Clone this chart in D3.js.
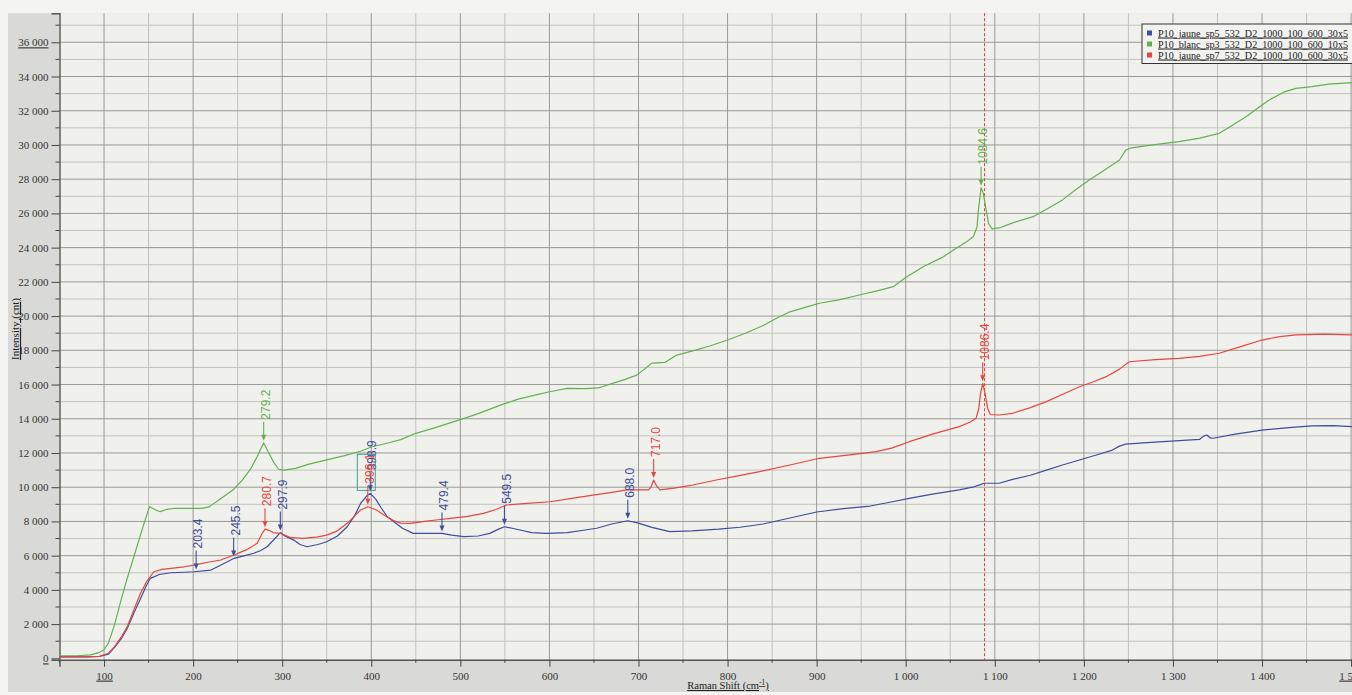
<!DOCTYPE html>
<html><head><meta charset="utf-8">
<script src="https://cdn.jsdelivr.net/npm/d3@7"></script>
<style>
body{margin:0;background:#f4f4f2;}
svg{display:block}
</style>
</head><body>
<svg id="chart" width="1352" height="695"></svg>
<script>
// ---------------- data ----------------
const seriesNames = [
  "P10_jaune_sp5_532_D2_1000_100_600_30x5",
  "P10_blanc_sp3_532_D2_1000_100_600_10x5",
  "P10_jaune_sp7_532_D2_1000_100_600_30x5"
];
const seriesColors = ["#3f4d9c", "#62b24f", "#e5473d"];

// [Raman shift, intensity]
const jauneSp5 = [[50,80],[80,80],[95,110],[105,250],[112,650],[120,1200],[126,1750],[134,2700],[141,3500],[147,4200],[152,4675],[162,4900],[175,5000],[190,5030],[201,5060],[220,5160],[233,5500],[246,5845],[258,6000],[268,6140],[276,6300],[283,6520],[290,6900],[297.9,7350],[303,7150],[313,6910],[320,6650],[328,6520],[340,6650],[350,6815],[362,7150],[373,7690],[382,8400],[388,9050],[395,9500],[398.9,9640],[405,9300],[411,8800],[418,8275],[425,8000],[435,7600],[447,7300],[465,7300],[479.4,7300],[490,7200],[504,7110],[520,7150],[533,7300],[543,7550],[549.5,7690],[558,7600],[567,7500],[580,7350],[597,7300],[620,7350],[640,7500],[653,7600],[670,7850],[688,8040],[700,7900],[715,7650],[735,7400],[760,7450],[790,7550],[814,7660],[840,7850],[870,8200],[900,8550],[930,8750],[960,8900],[985,9150],[1004,9350],[1030,9600],[1060,9840],[1075,10000],[1084,10150],[1088,10230],[1105,10230],[1120,10460],[1140,10700],[1158,11000],[1176,11300],[1195,11590],[1214,11880],[1232,12170],[1240,12400],[1247,12520],[1275,12620],[1307,12720],[1330,12800],[1335,13000],[1338,13050],[1342,12880],[1345,12860],[1370,13100],[1400,13340],[1430,13480],[1456,13580],[1480,13600],[1501,13540]];

const blancSp3 = [[50,150],[70,150],[85,200],[95,350],[100,500],[105,900],[112,2000],[118,3200],[125,4500],[135,6200],[145,7900],[151,8860],[157,8700],[163,8570],[170,8700],[180,8770],[195,8760],[210,8760],[218,8850],[230,9300],[245,9850],[255,10400],[265,11100],[272,11800],[279.2,12600],[284,12100],[290,11500],[296,11050],[302,11000],[315,11100],[330,11350],[350,11600],[370,11850],[388,12100],[400,12350],[420,12600],[433,12780],[450,13150],[470,13450],[485,13700],[500,13950],[520,14300],[545,14800],[565,15150],[585,15400],[600,15580],[620,15780],[640,15760],[655,15800],[670,16050],[685,16300],[698,16550],[708,16950],[715,17250],[730,17300],[742,17700],[760,17950],[780,18250],[800,18600],[820,19000],[840,19450],[855,19870],[870,20250],[890,20550],[903,20750],[925,20950],[948,21230],[970,21500],[986,21720],[1000,22250],[1020,22900],[1040,23400],[1055,23900],[1070,24400],[1076,24650],[1080,25200],[1082,26400],[1084.6,27500],[1087,27200],[1090,26300],[1093,25400],[1097,25100],[1105,25150],[1120,25450],[1143,25810],[1160,26300],[1176,26790],[1190,27350],[1206,27950],[1222,28500],[1240,29120],[1247,29700],[1252,29810],[1277,30000],[1307,30190],[1330,30400],[1352,30680],[1365,31100],[1382,31650],[1395,32150],[1408,32630],[1425,33100],[1438,33310],[1456,33410],[1475,33550],[1501,33640]];

const jauneSp7 = [[50,80],[80,80],[95,120],[105,300],[112,700],[120,1300],[126,1850],[134,2900],[141,3800],[148,4500],[156,5060],[165,5200],[175,5260],[190,5350],[201,5450],[215,5600],[231,5745],[246,6040],[260,6350],[272,6720],[277,7250],[280.7,7550],[285,7480],[290,7350],[298,7300],[310,7050],[324,7010],[340,7100],[350,7200],[362,7450],[373,7890],[382,8350],[388,8670],[396.1,8860],[406,8670],[415,8350],[425,8050],[433,7900],[444,7890],[460,8000],[475,8100],[489,8180],[508,8300],[526,8470],[540,8700],[552,8960],[575,9050],[601,9150],[625,9350],[649,9540],[670,9700],[687,9840],[711,9840],[714,10000],[717,10420],[720,10100],[724,9840],[740,9950],[761,10130],[790,10450],[810,10650],[836,10910],[870,11300],[903,11690],[935,11880],[967,12075],[985,12300],[1004,12660],[1030,13100],[1060,13540],[1072,13800],[1079,14030],[1082,14600],[1084,15500],[1086.4,16070],[1089,15500],[1092,14600],[1095,14250],[1105,14220],[1120,14320],[1140,14650],[1158,15000],[1175,15400],[1195,15870],[1210,16150],[1225,16460],[1240,16900],[1251,17330],[1280,17450],[1307,17530],[1330,17650],[1352,17830],[1375,18200],[1400,18600],[1420,18800],[1438,18900],[1470,18950],[1501,18900]];

// peak annotations per series
const peaksSp5 = [203.4, 245.5, 297.9, 398.9, 479.4, 549.5, 688.0];
const peaksSp3 = [279.2, 1084.6];
const peaksSp7 = [280.7, 396.1, 717.0, 1086.4];

const cursorShift = 1088.5;

const xTicks = [100,200,300,400,500,600,700,800,900,1000,1100,1200,1300,1400,1500];
const xTickLabels = ["100","200","300","400","500","600","700","800","900","1 000","1 100","1 200","1 300","1 400","1 500"];
const yTicks = [0,2000,4000,6000,8000,10000,12000,14000,16000,18000,20000,22000,24000,26000,28000,30000,32000,34000,36000];
const yTickLabels = ["0","2 000","4 000","6 000","8 000","10 000","12 000","14 000","16 000","18 000","20 000","22 000","24 000","26 000","28 000","30 000","32 000","34 000","36 000"];

// ---------------- layout ----------------
const W = 1352, H = 695;
const pL = 59.5, pR = 1352, pT = 13.2, pB = 659.7;
const svg = d3.select("#chart");

const x = d3.scaleLinear().domain([50, 1501]).range([pL, pR]);
const y = d3.scaleLinear().domain([-80, 37700]).range([pB, pT]);

// panels
svg.append("rect").attr("x",0).attr("y",0).attr("width",W).attr("height",H).attr("fill","#f4f4f2");
svg.append("rect").attr("x",8).attr("y",pT).attr("width",W-8).attr("height",692-pT).attr("fill","#d9d9d7");
svg.append("rect").attr("x",pL).attr("y",pT).attr("width",pR-pL).attr("height",pB-pT).attr("fill","#f0f0ed");

// grid
const g = svg.append("g");
const minorX = d3.range(150, 1501, 100);
const minorY = d3.range(1000, 37700, 2000);
g.selectAll(".gxm").data(minorX).join("line")
  .attr("x1",d=>x(d)).attr("x2",d=>x(d)).attr("y1",pT).attr("y2",pB)
  .attr("stroke","#c2c2c0").attr("stroke-width",1);
g.selectAll(".gym").data(minorY).join("line")
  .attr("x1",pL).attr("x2",pR).attr("y1",d=>y(d)).attr("y2",d=>y(d))
  .attr("stroke","#c2c2c0").attr("stroke-width",1);
g.selectAll(".gx").data(xTicks).join("line")
  .attr("x1",d=>x(d)).attr("x2",d=>x(d)).attr("y1",pT).attr("y2",pB)
  .attr("stroke","#999997").attr("stroke-width",1);
g.selectAll(".gy").data(yTicks.slice(1)).join("line")
  .attr("x1",pL).attr("x2",pR).attr("y1",d=>y(d)).attr("y2",d=>y(d))
  .attr("stroke","#999997").attr("stroke-width",1);

// axes
const xAxis = d3.axisBottom(x).tickValues(xTicks).tickSize(7).tickFormat((d,i)=>xTickLabels[i]);
const xAx = svg.append("g").attr("transform",`translate(0,${pB})`).call(xAxis);
xAx.select(".domain").attr("stroke","#555").attr("stroke-width",1.4);
xAx.selectAll(".tick line").attr("stroke","#444");
xAx.selectAll(".tick text").attr("font-family","'Liberation Serif', 'Times New Roman', serif")
  .attr("font-size","11px").attr("fill","#333").attr("dy","0.9em");
xAx.selectAll(".tick text").filter((d,i)=>i===0||i===xTicks.length-1).attr("text-decoration","underline");
svg.append("g").selectAll("line").data(d3.range(50,1501,100)).join("line")
  .attr("x1",d=>x(d)).attr("x2",d=>x(d)).attr("y1",pB).attr("y2",pB+3)
  .attr("stroke","#444");

const yAxis = d3.axisLeft(y).tickValues(yTicks).tickSize(8).tickFormat((d,i)=>yTickLabels[i]);
const yAx = svg.append("g").attr("transform",`translate(${pL},0)`).call(yAxis);
yAx.select(".domain").attr("stroke","#555").attr("stroke-width",1.4);
yAx.selectAll(".tick line").attr("stroke","#444");
yAx.selectAll(".tick text").attr("font-family","'Liberation Serif', 'Times New Roman', serif")
  .attr("font-size","11px").attr("fill","#333");
yAx.selectAll(".tick text").filter((d,i)=>i===0||i===yTicks.length-1).attr("text-decoration","underline");
svg.append("g").selectAll("line").data(d3.range(1000,37700,2000)).join("line")
  .attr("x1",pL-4).attr("x2",pL).attr("y1",d=>y(d)).attr("y2",d=>y(d))
  .attr("stroke","#444");

// axis titles
const xt = svg.append("text").attr("x",728).attr("y",689).attr("text-anchor","middle")
  .attr("font-family","'Liberation Serif', 'Times New Roman', serif").attr("font-size","10.5px")
  .attr("fill","#222").attr("text-decoration","underline");
xt.append("tspan").text("Raman Shift (cm");
xt.append("tspan").attr("dy","-4").attr("font-size","7.5px").text("-1");
xt.append("tspan").attr("dy","4").text(")");
svg.append("text").attr("transform","translate(19,329) rotate(-90)").attr("text-anchor","middle")
  .attr("font-family","'Liberation Serif', 'Times New Roman', serif").attr("font-size","11px")
  .attr("fill","#222").attr("text-decoration","underline").text("Intensity (cnt)");

// clip
svg.append("clipPath").attr("id","clip").append("rect")
  .attr("x",pL).attr("y",pT).attr("width",pR-pL).attr("height",pB-pT);

// cursor line
svg.append("line").attr("x1",x(cursorShift)).attr("x2",x(cursorShift)).attr("y1",pT).attr("y2",pB)
  .attr("stroke","#e23a33").attr("stroke-width",1).attr("stroke-dasharray","3,2");

// series
const allSeries = [jauneSp5, blancSp3, jauneSp7];
const allPeaks = [peaksSp5, peaksSp3, peaksSp7];
const line = d3.line().x(d=>x(d[0])).y(d=>y(d[1]));
const plot = svg.append("g").attr("clip-path","url(#clip)");
allSeries.forEach((s,i)=>{
  plot.append("path").datum(s).attr("d",line).attr("fill","none")
    .attr("stroke",seriesColors[i]).attr("stroke-width",1.2).attr("stroke-linejoin","round");
});

// annotations
function valueAt(s, v){
  const i = d3.bisector(d=>d[0]).left(s, v);
  if (i<=0) return s[0][1];
  if (i>=s.length) return s[s.length-1][1];
  const a=s[i-1], b=s[i];
  const t=(v-a[0])/(b[0]-a[0]);
  return a[1]+t*(b[1]-a[1]);
}
const ann = svg.append("g");
allPeaks.forEach((peaks,i)=>{
  const col = seriesColors[i];
  peaks.forEach(p=>{
    const px = x(p), py = y(valueAt(allSeries[i], p));
    ann.append("line").attr("x1",px).attr("x2",px).attr("y1",py-21).attr("y2",py-6)
      .attr("stroke",col).attr("stroke-width",1.1);
    ann.append("path").attr("d",`M${px-2.5},${py-8}L${px+2.5},${py-8}L${px},${py-2}Z`).attr("fill",col);
    ann.append("text").attr("transform",`translate(${px+2},${py-23}) rotate(-90)`)
      .attr("dy","0.35em").attr("font-family","'Liberation Sans', Arial, sans-serif")
      .attr("font-size","12px").attr("fill",col).text(p.toFixed(1));
  });
});
// selection box around overlapping labels
const boxPeak = peaksSp5[3];
ann.append("rect").attr("x",x(boxPeak)-13).attr("y",y(valueAt(jauneSp5,boxPeak))-39)
  .attr("width",18).attr("height",36).attr("fill","none").attr("stroke","#3f9e96").attr("stroke-width",1);

// legend
const lg = svg.append("g");
lg.append("rect").attr("x",1142).attr("y",24).attr("width",215).attr("height",39.5)
  .attr("fill","#f2f2f0").attr("stroke","#333").attr("stroke-width",1);
seriesNames.forEach((n,i)=>{
  const yy = 33 + i*11;
  lg.append("rect").attr("x",1147).attr("y",yy-2.5).attr("width",5).attr("height",5).attr("fill",seriesColors[i]);
  lg.append("text").attr("x",1158).attr("y",yy+3.5).attr("font-family","'Liberation Serif', 'Times New Roman', serif")
    .attr("font-size","10.3px").attr("fill","#222").attr("text-decoration","underline")
    .attr("textLength",190).attr("lengthAdjust","spacingAndGlyphs").text(n);
});
</script>
</body></html>
